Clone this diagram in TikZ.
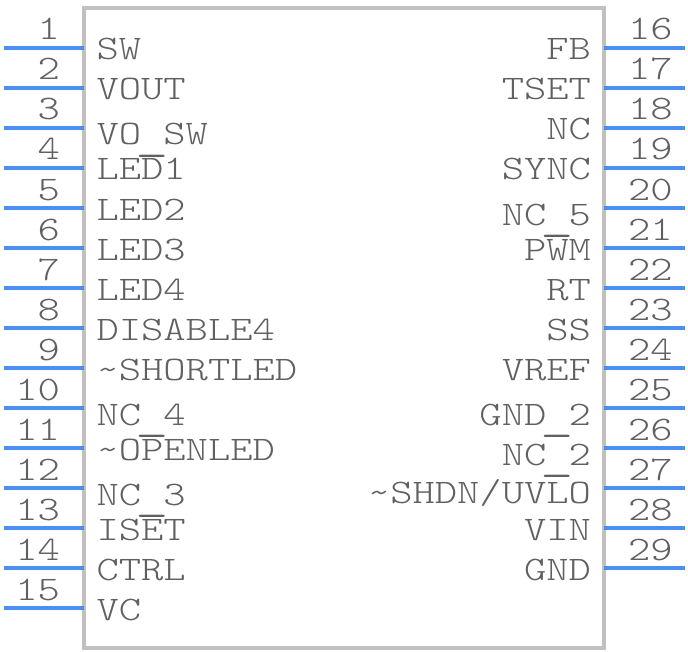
\documentclass[tikz,border=0pt]{standalone}
\usepackage{fontspec}
\usepackage{graphicx}
\setmonofont{Latin Modern Mono Light}[FakeStretch=1.235]
\usepackage{tikz}
\usetikzlibrary{positioning,calc}
\definecolor{pinblue}{HTML}{4A90F0}
\definecolor{bodygrey}{HTML}{C0C0C0}
\definecolor{textgrey}{HTML}{606060}
\newcommand{\usc}{\setbox0=\hbox{\_}\hbox to \wd0{\hss\raisebox{-3.4pt}[0pt][0pt]{\scalebox{1.5}[1.3]{\_}}\hss}}

\begin{document}
\begin{tikzpicture}[x=0.75pt,y=-0.75pt,
        txt/.style={inner sep=0pt,outer sep=0pt,text=textgrey,font=\fontsize{25.8pt}{28pt}\ttfamily},
        lbl/.style={txt,anchor=base west},
        rbl/.style={txt,anchor=base east},
        num/.style={txt},
        pin/.style={draw=pinblue,line width=3pt},
        body/.style={draw=bodygrey,line width=3pt,fill=white,rectangle,inner sep=0pt,outer sep=0pt,
                     minimum width=390pt,minimum height=480pt}]
   \useasboundingbox (0,0) rectangle (688,652);
   \node (U) [body] at (344,328) {};

   % left side
   \foreach \n/\ypos/\base/\name in {1/48/60/SW,2/88/100/VOUT,3/128/145/VO\usc SW,4/168/180/LED1,
        5/208/220/LED2,6/248/260/LED3,7/288/300/LED4,8/328/340/DISABLE4,9/368/380/\textasciitilde SHORTLED,
        10/408/425/NC\usc 4,11/448/460/\textasciitilde OPENLED,12/488/505/NC\usc 3,13/528/540/ISET,
        14/568/580/CTRL,15/608/620/VC}{
      \coordinate (A\n) at (4,\ypos);
      \coordinate (B\n) at (U.west |- A\n);
      \draw[pin] (A\n) -- (B\n);
      \node (N\n) [num,anchor=base east] at (60,\ypos-8) {\n};
      \node (L\n) [lbl] at (96.5,\base) {\name};
   }

   % right side
   \foreach \n/\ypos/\base/\name in {16/48/60/FB,17/88/100/TSET,18/128/140/NC,19/168/180/SYNC,
        20/208/225/NC\usc 5,21/248/260/PWM,22/288/300/RT,23/328/340/SS,24/368/380/VREF,
        25/408/425/GND\usc 2,26/448/465/NC\usc 2,27/488/503/{\textasciitilde SHDN/UVLO},28/528/540/VIN,29/568/580/GND}{
      \coordinate (A\n) at (685,\ypos);
      \coordinate (B\n) at (U.east |- A\n);
      \draw[pin] (A\n) -- (B\n);
      \node (N\n) [num,anchor=base west] at (628,\ypos-8) {\n};
      \node (L\n) [rbl] at (591,\base) {\name};
   }

\end{tikzpicture}
\end{document}
